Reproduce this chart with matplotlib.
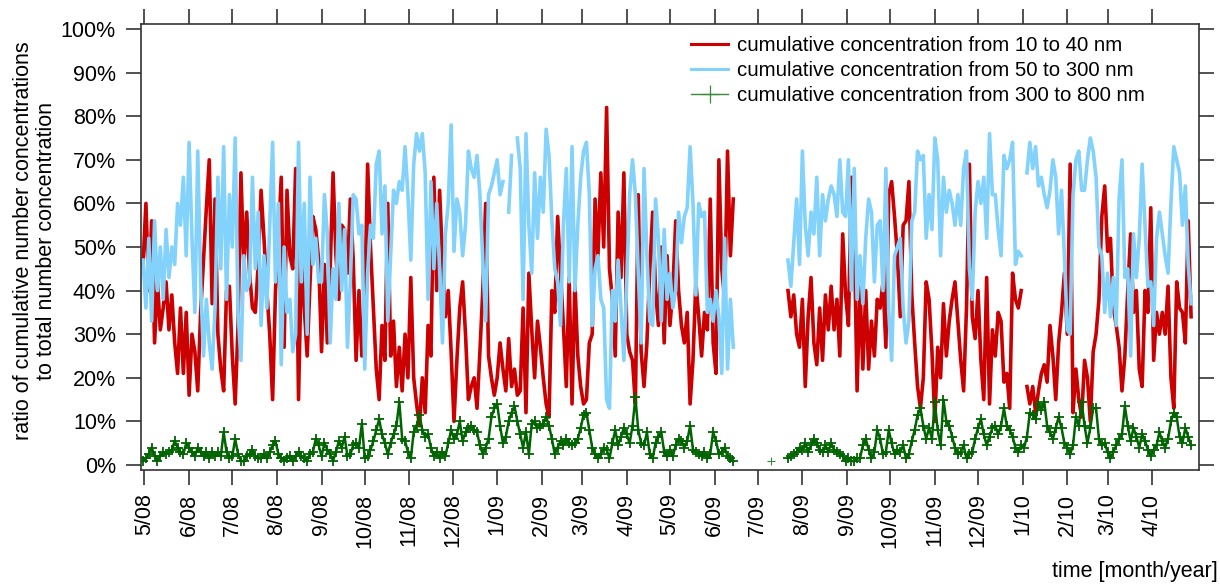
import numpy as np
import pandas as pd
import matplotlib
matplotlib.use("Agg")
import matplotlib.pyplot as plt

plt.rcParams['font.family'] = ['Liberation Sans', 'DejaVu Sans']

nan = np.nan

# --- measurement periods (2-day values) ---
seg1_start = "2008-04-30"
seg2_start = "2009-07-22"
gap_date = "2009-06-25"

# ratio of 10-40 nm concentration to total [%]
red_a = [46, 60, 40, 56, 28, 42, 31, 36, 42, 31,
         39, 28, 21, 36, 21, 35, 16, 30, 26, 17,
         35, 47, 59, 70, 37, 61, 30, 22, 17, 40,
         41, 25, 14, 32, 67, 46, 58, 44, 36, 35,
         46, 63, 52, 40, 30, 15, 40, 52, 66, 27,
         63, 48, 45, 68, 15, 47, 36, 25, 42, 57,
         54, 47,
         26, 46, 28, 45, 67, 48, 38, 55, 54, 44,
         61, 47, 24, 40, 25, 37, 69, 50, 36, 22,
         15, 32, 24, 60, 25, 33, 18, 27, 17, 30,
         20, 43, 20, 14, 9, 20, 12, 32, 25, 66,
         40, 63, 47, 34, 40, 26, 10, 24, 36, 42,
         30, 15, 18, 20, 13, 26, 40, 60, 25, 20,
         16,
         20, 28, 22, 17, 29, 18, 22, 16, 17, 36,
         12, 44, 31, 20, 33, 27, 20, 14, 11, 40,
         35, 57, 44, 32, 18, 43, 14, 42, 25, 18,
         14, 15, 28, 30, 61, 48, 67, 50, 82, 45,
         38, 25, 58, 43, 67, 30, 26, 24, 14, 62,
         26, 18, 28, 45, 58, 40, 32, 50, 28, 48,
         32, 40, 56, 40, 32, 28, 35, 14, 24, 42,
         34, 25, 35, 31, 61, 28, 21, 70, 45, 38,
         72, 48, 61]
red_b = [40, 34, 39, 30, 27, 38, 18, 34, 43, 28,
         23, 36, 24, 39, 31, 41, 31, 38, 25, 53,
         39, 32, 66, 54, 17, 41, 22, 40, 22, 33,
         25, 38, 36, 42, 27, 62, 65, 57, 48, 34,
         55, 56, 65, 39, 28, 18, 13, 20, 42, 38,
         26, 10, 27, 20, 37, 25, 33, 38, 42, 33,
         24, 17, 36, 69, 34, 29, 40, 24, 15, 43,
         14, 31, 25, 35, 33, 19, 21, 13, 44, 38,
         36,
         40, nan, 18, 14, 18, 12, 17, 21, 23, 19,
         32, 25, 15, 28, 35, 44, 30, 69, 12, 22,
         15, 11, 24, 20, 10, 26, 30, 38, 57, 64,
         49, 52, 36, 32, 27, 17, 25, 40, 53, 35,
         40, 22, 18, 40, 35, 59, 24, 35, 30, 35,
         30, 41, 20, 13, 42, 36, 35, 28, 56, 34]

# ratio of 50-300 nm concentration to total [%]
blue_a = [47, 36, 52, 33, 56, 40, 50, 38, 54, 43,
          50, 46, 60, 55, 66, 48, 74, 52, 35, 72,
          42, 25, 38, 28, 22, 36, 66, 45, 73, 38,
          62, 50, 75, 35, 24, 48, 40, 42, 66, 45,
          58, 32, 48, 36, 55, 74, 42, 60, 23, 50,
          35, 38, 26, 30, 74, 42, 60, 30, 66, 46,
          52, 42,
          42, 62, 53, 28, 45, 38, 60, 40, 54, 27,
          42, 62, 61, 53, 55, 22, 44, 55, 52, 69,
          72, 53, 64, 33, 48, 63, 60, 65, 63, 73,
          62, 47, 69, 76, 72, 76, 67, 38, 65, 45,
          60, 45, 28, 53, 60, 78, 49, 61, 58, 48,
          55, 72, 68, 66, 71, 62, 47, 33, 62, 64,
          67,
          70, 62, 65, nan, 58, 71, nan, 75, 68, 38,
          76, 55, 44, 67, 52, 66, 58, 77, 71, 56,
          45, 42, 32, 55, 68, 42, 73, 40, 55, 66,
          72, 74, 62, 32, 45, 48, 38, 36, 15, 13,
          40, 33, 47, 36, 24, 42, 62, 70, 62, 44,
          28, 68, 48, 33, 32, 61, 52, 33, 54, 38,
          44, 36, 40, 58, 51, 57, 59, 73, 60, 39,
          60, 57, 58, 35, 38, 33, 40, 34, 21, 52,
          22, 38, 27]
blue_b = [47, 41, 51, 61, 46, 72, 55, 48, 58, 53,
          66, 48, 62, 56, 61, 64, 62, 57, 70, 58,
          57, 70, 40, 68, 38, 48, 37, 52, 61, 58,
          42, 55, 56, 40, 68, 35, 24, 48, 50, 52,
          36, 28, 33, 56, 58, 72, 70, 71, 52, 62,
          54, 75, 70, 48, 66, 58, 63, 60, 55, 62,
          55, 68, 72, 45, 38, 58, 65, 60, 66, 52,
          76, 62, 62, 54, 48, 71, 68, 70, 74, 46,
          49,
          48, nan, 67, 74, 68, 73, 64, 66, 62, 59,
          63, 70, 66, 53, 63, 48, 31, 30, 62, 70,
          72, 63, 63, 70, 75, 72, 66, 50, 48, 35,
          44, 34, 43, 32, 61, 70, 43, 45, 25, 53,
          43, 52, 69, 55, 41, 42, 32, 52, 58, 53,
          48, 44, 60, 73, 70, 67, 55, 64, 46, 37]

# ratio of 300-800 nm concentration to total [%]
green_a = [1, 1.5, 2.5, 4, 2, 1, 2, 3, 2.5, 3,
           3.5, 5.5, 4, 3, 2.5, 5, 4, 3, 2, 4,
           3, 2, 3, 1.5, 3, 2, 3, 2, 7.5, 3,
           1.5, 2, 6, 2.5, 1, 0.8, 2, 2.5, 3.5, 2,
           1.5, 1.5, 2.5, 1.5, 3, 4.5, 5.5, 2.5, 1.5, 1,
           1.5, 2, 1, 2, 3, 2, 1.5, 1, 2.5, 3,
           6, 4.5,
           2, 5, 3.5, 2.5, 1, 3, 5.5, 4, 6.5, 2,
           2.5, 4.5, 5, 4, 9.5, 1.5, 2, 3.5, 5.5, 8,
           10.5, 7, 5, 2.5, 5, 7, 9, 14.5, 6, 5.5,
           3, 1.5, 7.5, 9, 11.5, 8, 6.5, 7, 4, 2,
           3, 1.5, 3, 2, 5, 8, 6, 7, 10, 5.5,
           7.5, 8.5, 9, 8, 7.5, 4.5, 2.5, 4, 6, 11,
           13,
           14, 9, 5, 6.5, 10, 12, 13.5, 10, 7, 4,
           7.5, 2.5, 9.5, 10, 8.5, 9, 9.5, 11, 9, 6,
           2.5, 4, 5.5, 4.5, 6, 5, 4.5, 5, 6, 8.5,
           11.5, 12, 8, 4, 2.5, 1.5, 2.5, 4, 3.5, 1.5,
           5, 8, 4.5, 6.5, 8.5, 7, 5, 9, 15.5, 8,
           5, 4.5, 7.5, 2.5, 1.5, 5, 6.5, 7.5, 3, 2,
           3.5, 2, 4.5, 6, 5.5, 4, 5.5, 9, 3.5, 3,
           2.5, 2, 3, 1.5, 2.5, 7.5, 5.5, 2.5, 3, 4,
           2, 1.5, 0.8]
green_b = [1.5, 2, 2.5, 3, 4, 3.5, 5, 3, 4.5, 6,
           5, 3.5, 3, 4.5, 3, 5, 3.5, 3, 2.5, 2,
           0.8, 1.5, 1, 0.8, 1.5, 1.5, 4.5, 6, 3.5, 1.5,
           3, 8, 6, 2.5, 3, 8, 5, 2.5, 3.5, 3,
           4.5, 1.5, 2.5, 5.5, 8, 11.5, 13, 9, 6, 8.5,
           6, 14.5, 8, 4.5, 15, 10, 9, 6.5, 4, 2.5,
           3, 4.5, 1.5, 2.5, 3, 6, 8.5, 10.5, 7, 4.5,
           6.5, 8.5, 9, 7, 9, 13, 9, 8, 6.5, 4,
           3,
           4.5, 4, 6.5, 12, 11.5, 10.5, 14, 12.5, 14.5, 9,
           7.5, 6, 8.5, 11, 8.5, 5, 4, 2.5, 4.5, 11,
           9, 14.5, 9, 5, 8.5, 13, 13, 6, 4.5, 5,
           3, 1.5, 3, 4.5, 6, 7, 13.5, 9, 5.5, 8.5,
           6.5, 4, 7, 5.5, 3.5, 2, 3.5, 4.5, 7.5, 5.5,
           4, 6, 10, 12, 11, 6.5, 5, 8.5, 6.5, 4.5]

# single reading inside the gap
green_lone_date = "2009-07-10"
green_lone_value = 1.0

labels = ["cumulative concentration from 10 to 40 nm",
          "cumulative concentration from 50 to 300 nm",
          "cumulative concentration from 300 to 800 nm"]

month_ticks = pd.date_range("2008-05-01", "2010-04-01", freq="MS")
tick_labels = ["5/08", "6/08", "7/08", "8/08", "9/08", "10/08", "11/08",
               "12/08", "1/09", "2/09", "3/09", "4/09", "5/09", "6/09",
               "7/09", "8/09", "9/09", "10/09", "11/09", "12/09", "1/10",
               "2/10", "3/10", "4/10"]
y_ticks = list(range(0, 101, 10))

# --- assemble time axis with a break between the two periods ---
dates = (list(pd.date_range(seg1_start, periods=len(red_a), freq="2D"))
         + [pd.Timestamp(gap_date)]
         + list(pd.date_range(seg2_start, periods=len(red_b), freq="2D")))


def joined(a, b):
    return np.array(a + [nan] + b, dtype=float)


red = joined(red_a, red_b)
blue = joined(blue_a, blue_b)
green = joined(green_a, green_b)

FS = 15.5
GREEN = "#006400"

fig = plt.figure(figsize=(12.2, 5.85), dpi=100)
ax = fig.add_axes([141 / 1220, 1 - 470 / 585, (1199 - 141) / 1220, (470 - 24) / 585])

ax.plot(dates, red, color="#cc0000", lw=2.6, label=labels[0])
ax.plot(dates, blue, color="#82d2fc", lw=2.6, label=labels[1])
ax.plot(dates, green, color=GREEN, lw=1.8, marker="+", ms=7.5, mew=1.3,
        label=labels[2])
ax.plot([pd.Timestamp(green_lone_date)], [green_lone_value], ls="none",
        marker="+", ms=6, mew=0.8, color="#3a8a3a")

ax.set_xlim(pd.Timestamp("2008-04-28 14:00"), pd.Timestamp("2010-05-03 12:00"))
ax.set_ylim(-1.15, 101.15)

ax.set_xticks(month_ticks)
ax.set_xticklabels(tick_labels, rotation=90, ha="center", va="top")
ax.set_yticks(y_ticks)
ax.set_yticklabels([f"{v}%" for v in y_ticks])

ax.tick_params(axis="both", which="both", direction="out", length=11,
               width=1.2, color="#333333", labelsize=FS, top=True,
               right=True, labeltop=False, labelright=False)
ax.tick_params(axis="x", pad=6)
ax.tick_params(axis="y", pad=7)
for s in ax.spines.values():
    s.set_color("#333333")
    s.set_linewidth(1.2)

fig.text(35 / 1220, 1 - 241 / 585,
         "ratio of cumulative number concentrations\nto total number concentration",
         rotation=90, ha="center", va="center", multialignment="center",
         fontsize=FS, linespacing=1.15)
fig.text(1218 / 1220, 1 - 572 / 585, "time [month/year]", ha="right",
         va="center", fontsize=FS)

leg = ax.legend(loc="upper left", bbox_to_anchor=(0.5196, 0.973), frameon=False,
                fontsize=14.7, handlelength=1.84, handletextpad=0.43,
                labelspacing=0.3, borderpad=0, borderaxespad=0, markerscale=1.8)
for h in leg.legend_handles[:2]:
    h.set_linewidth(2.2)
leg.legend_handles[2].set_linewidth(1.0)
leg.legend_handles[2].set_markeredgewidth(0.9)
leg.legend_handles[2].set_color("#3a8a3a")

fig.savefig("out.png", dpi=100)
